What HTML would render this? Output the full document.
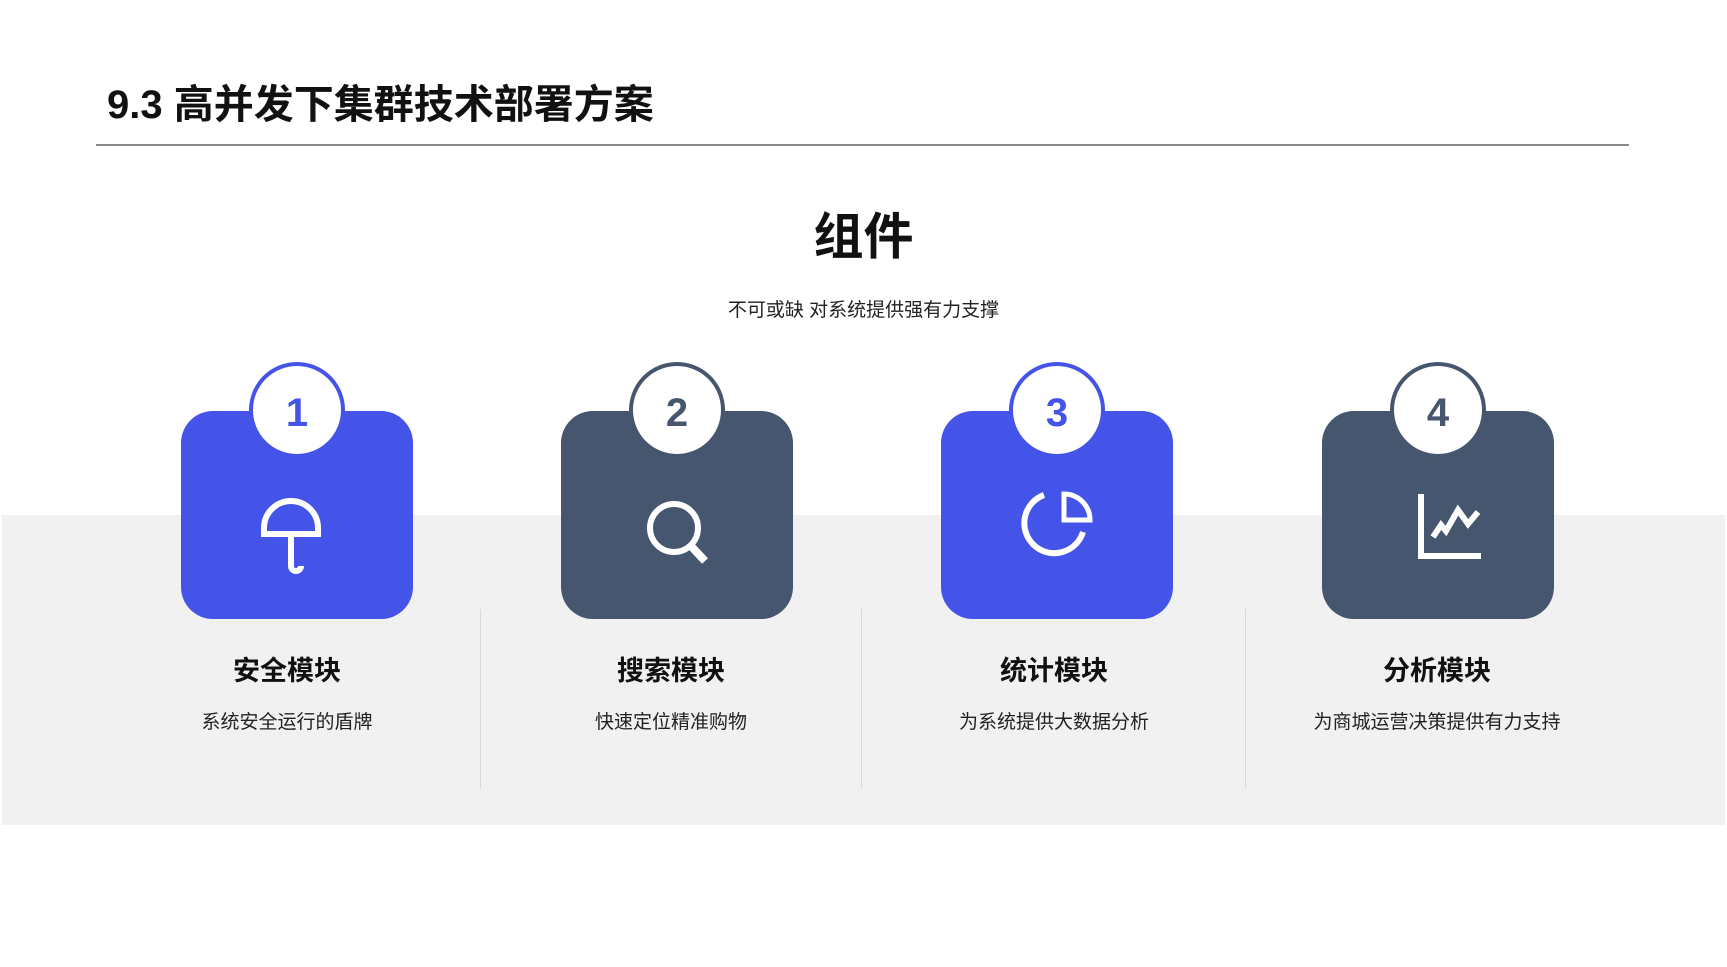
<!DOCTYPE html>
<html><head><meta charset="utf-8"><style>
*{margin:0;padding:0;box-sizing:border-box}
body{width:1727px;height:967px;background:#fff;position:relative;overflow:hidden;font-family:"Liberation Sans","Noto Sans CJK SC",sans-serif;color:#111}
.abs{position:absolute}
.title{left:107px;top:80px;font-size:40px;font-weight:bold;line-height:50px}
.rule{left:96px;top:144px;width:1533px;height:2px;background:#8a8a8a}
.h{left:0;width:1727px;text-align:center}
.band{left:2px;top:515px;width:1723px;height:310px;background:#f1f1f1}
.card{top:411px;width:232px;height:208px;border-radius:32px}
.circ{width:96px;height:96px;border-radius:50%;background:#fff;top:362px;border:4px solid;text-align:center;line-height:94px;font-size:40px;font-weight:bold}
.ct{top:649px;width:380px;text-align:center;font-size:27px;font-weight:bold}
.cd{top:707px;width:380px;text-align:center;font-size:19px;color:#222}
.div{top:609px;width:1px;height:180px;background:#d8d8d8}
.blue{background:#4453e8}.slate{background:#46566e}
</style></head><body>
<div class="abs title">9.3 高并发下集群技术部署方案</div>
<div class="abs rule"></div>
<div class="abs h" style="top:207px;font-size:50px;font-weight:bold;line-height:60px">组件</div>
<div class="abs h" style="top:298px;font-size:19px;line-height:26px;color:#222">不可或缺 对系统提供强有力支撑</div>
<div class="abs band"></div>

<div class="abs card blue" style="left:181px"></div>
<div class="abs card slate" style="left:561px"></div>
<div class="abs card blue" style="left:941px"></div>
<div class="abs card slate" style="left:1322px"></div>

<div class="abs circ" style="left:249px;border-color:#4453e8;color:#4453e8">1</div>
<div class="abs circ" style="left:629px;border-color:#46566e;color:#46566e">2</div>
<div class="abs circ" style="left:1009px;border-color:#4453e8;color:#4453e8">3</div>
<div class="abs circ" style="left:1390px;border-color:#46566e;color:#46566e">4</div>

<svg class="abs" style="left:0;top:0" width="1727" height="967">
 <g fill="none" stroke="#fff" stroke-width="6">
  <path d="M264 528 A27 27 0 0 1 318 528 L318 534 L264 534 Z"/>
  <line x1="291" y1="499" x2="291" y2="504"/>
  <path d="M291 534 L291 566 A5 5 0 0 0 301 566"/>
  <circle cx="674" cy="528" r="24"/>
  <line x1="691" y1="546" x2="705" y2="561" stroke-width="8"/>
  <path d="M1044 495 A30 30 0 1 0 1083 532"/>
  <path d="M1064 494 L1064 520 L1090 520 A26 26 0 0 0 1064 494 Z" stroke-width="5"/>
  <path d="M1421 494 L1421 556 L1481 556"/>
  <path d="M1433 537 L1441 525 L1446 531 L1458 510 L1468 524 L1478 512" stroke-width="6"/>
 </g>
</svg>

<div class="abs ct" style="left:97px">安全模块</div>
<div class="abs ct" style="left:481px">搜索模块</div>
<div class="abs ct" style="left:864px">统计模块</div>
<div class="abs ct" style="left:1247px">分析模块</div>
<div class="abs cd" style="left:97px">系统安全运行的盾牌</div>
<div class="abs cd" style="left:481px">快速定位精准购物</div>
<div class="abs cd" style="left:864px">为系统提供大数据分析</div>
<div class="abs cd" style="left:1247px">为商城运营决策提供有力支持</div>

<div class="abs div" style="left:480px"></div>
<div class="abs div" style="left:861px"></div>
<div class="abs div" style="left:1245px"></div>
</body></html>
